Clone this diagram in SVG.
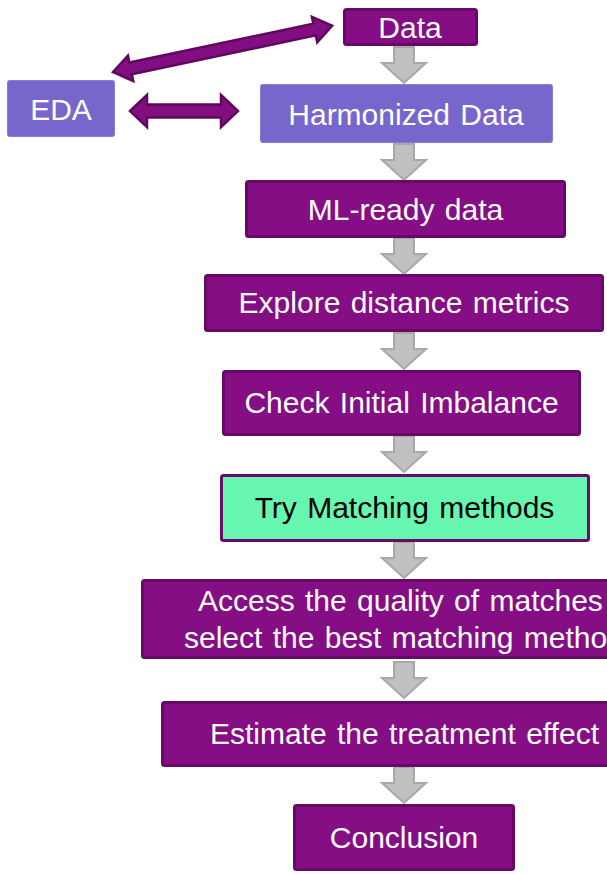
<svg xmlns="http://www.w3.org/2000/svg" width="607" height="875" viewBox="0 0 607 875">
<style>
.p{fill:#850E85;stroke:#670A67;stroke-width:3}
.b{fill:#7766CC;stroke:#8A7AD6;stroke-width:1}
.g{fill:#66F6B0;stroke:#6A0A6A;stroke-width:3}
.t{font-family:"Liberation Sans",Arial,sans-serif;font-size:30px;fill:#FFFFFF;text-anchor:middle;word-spacing:2px}
.k{fill:#000000}
.s{text-anchor:start}
.ga{fill:#C0C0C2;stroke:#A8A8AA;stroke-width:2}
.pa{fill:#820E82;stroke:#5E085E;stroke-width:2.5}
</style>
<defs>
<path id="down" class="ga" d="M-10,0 L10,0 L10,16 L22,16 L0,36 L-22,16 L-10,16 Z"/>
</defs>
<rect width="607" height="875" fill="#FFFFFF"/>
<g id="connectors">
<use href="#down" x="404" y="47"/>
<use href="#down" x="404" y="144"/>
<use href="#down" x="404" y="238"/>
<use href="#down" x="404" y="333"/>
<use href="#down" x="404" y="436"/>
<use href="#down" x="404" y="542"/>
<use href="#down" x="404" y="662"/>
<use href="#down" x="404" y="767"/>
<g transform="translate(113,72) rotate(-11.9)">
<path class="pa" d="M0,0 L18,-13 L18,-6 L206,-6 L206,-13 L224,0 L206,13 L206,6 L18,6 L18,13 Z"/>
</g>
<path class="pa" d="M130,111 L147,95 L147,104.5 L221,104.5 L221,95 L238,111 L221,127 L221,117.5 L147,117.5 L147,127 Z"/>
</g>
<g id="data">
<rect class="p" x="344.5" y="9.5" width="132" height="35" rx="2"/>
<text class="t" x="410" y="38">Data</text>
</g>
<g id="eda">
<rect class="b" x="7.5" y="80.5" width="107" height="56" rx="2"/>
<text class="t" x="61" y="120">EDA</text>
</g>
<g id="harmonized">
<rect class="b" x="260.5" y="84.5" width="292" height="58" rx="2"/>
<text class="t" x="406" y="125">Harmonized Data</text>
</g>
<g id="mlready">
<rect class="p" x="246.5" y="181.5" width="318" height="55" rx="2"/>
<text class="t" x="405.5" y="220">ML-ready data</text>
</g>
<g id="explore">
<rect class="p" x="205.5" y="275.5" width="397" height="55" rx="2"/>
<text class="t" x="404" y="313">Explore distance metrics</text>
</g>
<g id="check">
<rect class="p" x="223.5" y="371.5" width="356" height="63" rx="2"/>
<text class="t" x="401.5" y="413">Check Initial Imbalance</text>
</g>
<g id="try">
<rect class="g" x="221.5" y="475.5" width="367" height="65" rx="2"/>
<text class="t k" x="404.5" y="518">Try Matching methods</text>
</g>
<g id="access">
<rect class="p" x="142.5" y="580.5" width="540" height="77" rx="2"/>
<text class="t s" x="198" y="611">Access the quality of matches</text>
<text class="t s" x="184" y="648">select the best matching metho</text>
</g>
<g id="estimate">
<rect class="p" x="162.5" y="702.5" width="520" height="63" rx="2"/>
<text class="t s" x="210" y="744">Estimate the treatment effect</text>
</g>
<g id="conclusion">
<rect class="p" x="294.5" y="805.5" width="219" height="64" rx="2"/>
<text class="t" x="404" y="848">Conclusion</text>
</g>
</svg>
